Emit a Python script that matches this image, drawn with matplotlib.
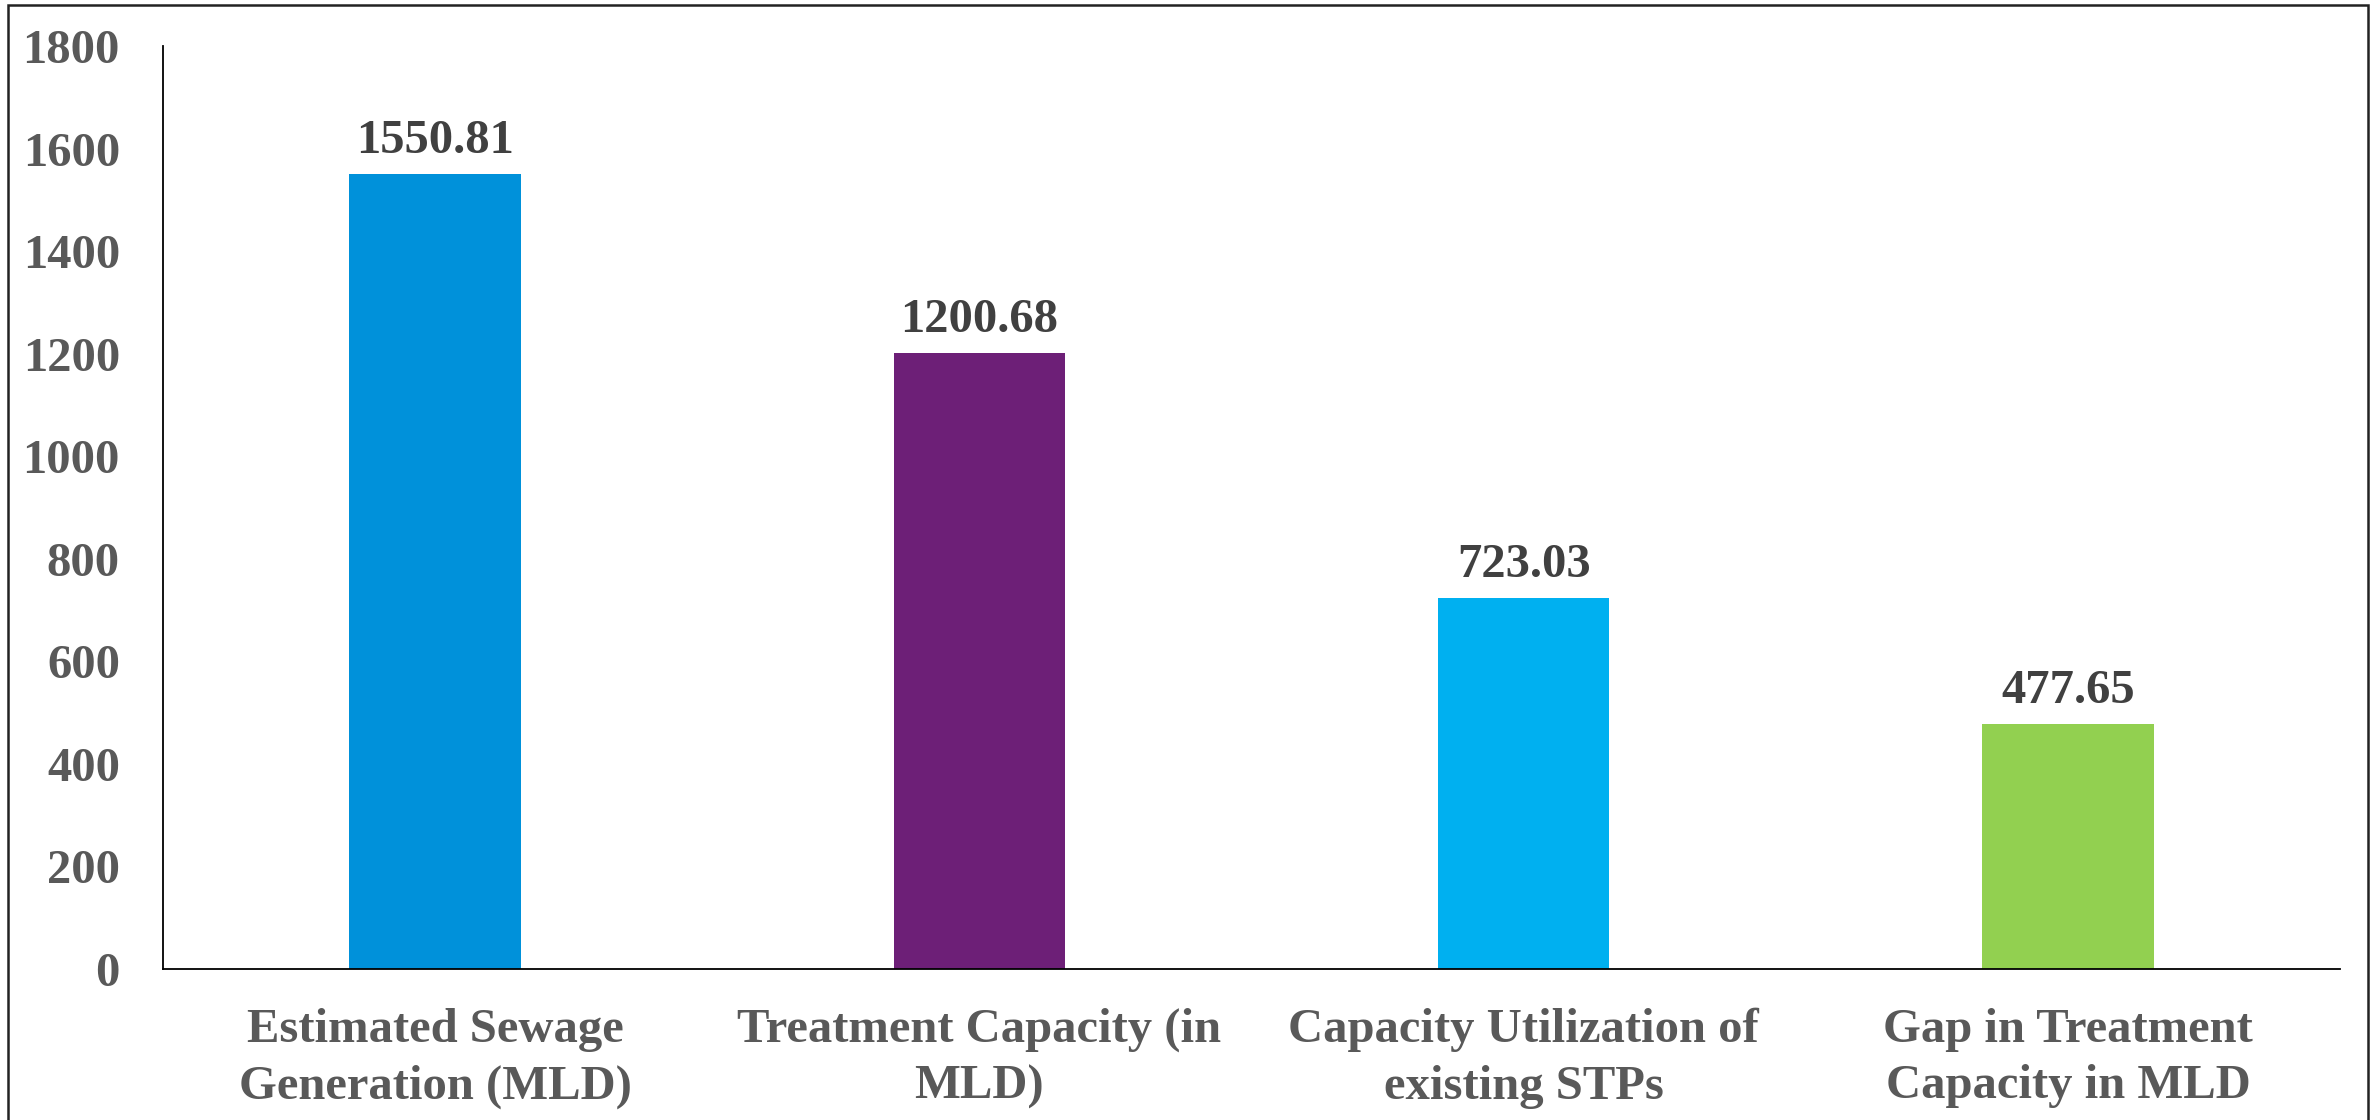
import matplotlib
matplotlib.use("Agg")
import matplotlib.pyplot as plt
from matplotlib.patches import Rectangle

categories = ["Estimated Sewage\nGeneration (MLD)", "Treatment Capacity (in\nMLD)",
              "Capacity Utilization of\nexisting STPs", "Gap in Treatment\nCapacity in MLD"]
values = [1550.81, 1200.68, 723.03, 477.65]
colors = ["#0091DA", "#6D1F77", "#00B0F0", "#92D050"]
yticks = [0, 200, 400, 600, 800, 1000, 1200, 1400, 1600, 1800]

plt.rcParams['font.family'] = ['Liberation Serif', 'DejaVu Serif']
plt.rcParams['font.weight'] = 'bold'

W, H = 2376, 1120
fig = plt.figure(figsize=(W / 100, H / 100), dpi=100)
ax = fig.add_axes([163 / W, 1 - 969 / H, (2340 - 163) / W, (969 - 46) / H])

x = list(range(len(categories)))
bars = ax.bar(x, values, width=0.315, color=colors, zorder=2)
for xi, v in zip(x, values):
    ax.annotate(f"{v:.2f}", (xi, v), xytext=(0, 8), textcoords="offset points",
                ha="center", va="bottom", fontsize=35, fontweight="bold", color="#404040")

ax.set_xlim(-0.5, 3.5)
ax.set_ylim(0, 1800)
ax.set_yticks(yticks)
ax.set_yticklabels([str(t) for t in yticks], fontsize=35, fontweight="bold", color="#595959")
ax.set_xticks(x)
ax.set_xticklabels(categories, fontsize=35, fontweight="bold", color="#595959", linespacing=1.36)
ax.tick_params(axis="y", length=0, pad=31)
ax.tick_params(axis="x", length=0, pad=28)
for s in ["top", "right"]:
    ax.spines[s].set_visible(False)
for s in ["left", "bottom"]:
    ax.spines[s].set_color("black")
    ax.spines[s].set_linewidth(1.3)

fig.patches.append(Rectangle((8 / W, -0.05), (2368 - 8) / W, 1 - 5 / H + 0.05,
                             transform=fig.transFigure, fill=False,
                             edgecolor="#222222", linewidth=1.8))

fig.savefig("out.png", dpi=100)
